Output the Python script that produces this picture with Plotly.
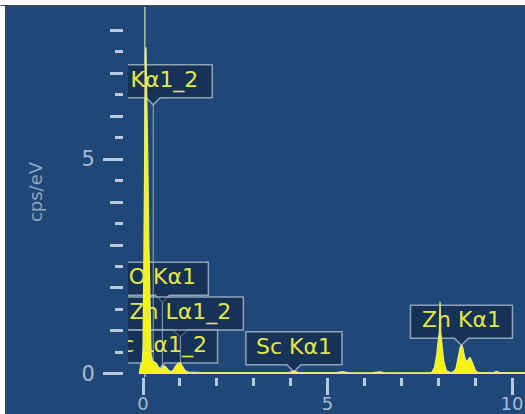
import plotly.graph_objects as go

# ---------------------------------------------------------------- data
# EDS spectrum: energy (keV) and intensity (cps/eV)
energy_kev = [
    -0.10, -0.06, -0.02, 0.00, 0.02, 0.035, 0.05, 0.065, 0.08, 0.10,
    0.13, 0.16, 0.19, 0.22, 0.26, 0.30, 0.36, 0.42, 0.47, 0.52,
    0.58, 0.64, 0.70, 0.76, 0.82, 0.88, 0.95, 1.01, 1.07, 1.14,
    1.22, 1.35, 1.60, 2.00, 2.40, 2.80, 3.20, 3.60, 3.95, 4.09,
    4.22, 4.60, 5.00, 5.25, 5.40, 5.55, 5.90, 6.25, 6.40, 6.55,
    7.00, 7.50, 7.82, 7.90, 7.96, 8.00, 8.03, 8.05, 8.07, 8.10,
    8.15, 8.22, 8.30, 8.40, 8.48, 8.54, 8.59, 8.63, 8.67, 8.71,
    8.75, 8.79, 8.83, 8.87, 8.91, 8.96, 9.02, 9.10, 9.30, 9.50,
    9.58, 9.66, 9.80, 10.10, 10.40,
]
intensity_cps_ev = [
    0.00, 0.22, 0.28, 0.60, 2.20, 4.60, 6.60, 7.45, 7.60, 6.80,
    5.00, 3.00, 1.20, 0.45, 0.30, 0.28, 0.25, 0.16, 0.10, 0.15,
    0.19, 0.14, 0.08, 0.05, 0.09, 0.18, 0.25, 0.26, 0.17, 0.08,
    0.045, 0.035, 0.030, 0.030, 0.028, 0.030, 0.028, 0.030, 0.035, 0.065,
    0.035, 0.030, 0.028, 0.030, 0.055, 0.030, 0.028, 0.030, 0.050, 0.030,
    0.028, 0.030, 0.035, 0.15, 0.45, 0.78, 0.95, 1.68, 0.95, 0.70,
    0.30, 0.08, 0.04, 0.045, 0.12, 0.38, 0.60, 0.68, 0.60, 0.42,
    0.30, 0.30, 0.36, 0.38, 0.30, 0.16, 0.06, 0.035, 0.030, 0.035,
    0.060, 0.035, 0.030, 0.030, 0.030,
]

# identified element lines: label, line energy (keV), label tip height (cps/eV)
line_names = ["C Kα1_2", "O Kα1", "Zn Lα1_2", "Sc Lα1_2", "Sc Kα1", "Zn Kα1"]
line_energy_kev = [0.277, 0.525, 1.012, 0.395, 4.090, 8.630]
line_label_height = [6.26, 1.67, 0.86, 0.09, 0.05, 0.67]

# position of the energy cursor (keV)
cursor_kev = 0.05

x_major_ticks = [0, 5, 10]
x_minor_ticks = [1, 2, 3, 4, 6, 7, 8, 9]
y_major_ticks = [0, 5]
y_minor_ticks = [1, 2, 3, 4, 6, 7, 8]
y_half_ticks = [0.5, 1.5, 2.5, 3.5, 4.5, 5.5, 6.5, 7.5]

# ---------------------------------------------------------------- style
W, H = 525, 414
M_L, M_R, M_T, M_B = 123, 0, 7, 37
CLIP_GAP = 5                      # px between y ticks and spectrum area
X_RANGE = [-0.4065, 10.352]
Y_RANGE = [-0.07, 8.535]
PLOT_H = H - M_T - M_B
PX_PER_UNIT = PLOT_H / (Y_RANGE[1] - Y_RANGE[0])

BG = "#1f4879"
TICK = "#b8cae0"
TICKLABEL = "#a7bad2"
TITLE = "#8fa5c0"
SPEC_FILL = "#f4f40e"
SPEC_LINE = "#e8ee80"
BOX_FILL = "rgba(14, 32, 60, 0.55)"
BOX_LINE = "rgba(165, 182, 200, 0.85)"
LABEL_TEXT = "#e3e748"
CURSOR = "#a3c6a0"
MARKER_LINE = "rgba(185, 198, 212, 0.75)"
FONT = "DejaVu Sans"

# label box geometry in px (half width per label, notch and body size)
box_half_width = {"C Kα1_2": 59, "O Kα1": 46, "Zn Lα1_2": 63,
                  "Sc Lα1_2": 60, "Sc Kα1": 48, "Zn Kα1": 51}
NOTCH_H, NOTCH_W, BOX_H = 7, 7, 33

fig = go.Figure()

# thin marker lines from each label down to the baseline
mx, my = [], []
for e, h in zip(line_energy_kev, line_label_height):
    mx += [e, e, None]
    my += [0, h, None]
fig.add_trace(go.Scatter(x=mx, y=my, mode="lines",
                         line=dict(color=MARKER_LINE, width=1),
                         hoverinfo="skip", showlegend=False))

# spectrum
fig.add_trace(go.Scatter(x=energy_kev, y=intensity_cps_ev, mode="lines",
                         fill="tozeroy", fillcolor=SPEC_FILL,
                         line=dict(color=SPEC_LINE, width=1.2),
                         showlegend=False))

# label texts, centred in their boxes
text_y = [h + (NOTCH_H + BOX_H / 2) / PX_PER_UNIT for h in line_label_height]
fig.add_trace(go.Scatter(x=line_energy_kev, y=text_y, mode="text",
                         text=line_names, textposition="middle center",
                         textfont=dict(family=FONT, size=22, color=LABEL_TEXT),
                         cliponaxis=True, hoverinfo="skip", showlegend=False))

# empty trace that carries the overlaid half-step tick axis
fig.add_trace(go.Scatter(x=[], y=[], yaxis="y2", showlegend=False))

shapes = []
# energy cursor
shapes.append(dict(type="line", xref="x", yref="paper", x0=cursor_kev, x1=cursor_kev,
                   y0=0, y1=1, layer="below", line=dict(color=CURSOR, width=1.5)))

# label boxes with a pointer notch at the bottom
for name, e, h in zip(line_names, line_energy_kev, line_label_height):
    hw = box_half_width[name]
    path = (f"M {-hw},{NOTCH_H} L {-NOTCH_W},{NOTCH_H} L 0,0 L {NOTCH_W},{NOTCH_H} "
            f"L {hw},{NOTCH_H} L {hw},{NOTCH_H + BOX_H} L {-hw},{NOTCH_H + BOX_H} Z")
    shapes.append(dict(type="path", xref="x", yref="y",
                       xsizemode="pixel", ysizemode="pixel",
                       xanchor=e, yanchor=h, path=path, layer="below",
                       fillcolor=BOX_FILL, line=dict(color=BOX_LINE, width=1.5)))

# window frame at the top and left edges
shapes += [
    dict(type="rect", xref="paper", yref="paper", xsizemode="pixel", xanchor=0,
         x0=-M_L, x1=-M_L + 5, y0=-0.2, y1=1.2, fillcolor="white",
         line=dict(width=0), layer="above"),
    dict(type="rect", xref="paper", yref="paper", ysizemode="pixel", yanchor=1,
         y0=M_T, y1=M_T - 5, x0=-0.4, x1=1.1, fillcolor="white",
         line=dict(width=0), layer="above"),
    dict(type="line", xref="paper", yref="paper", xsizemode="pixel", xanchor=0,
         x0=-M_L + 5.5, x1=-M_L + 5.5, y0=-0.2, y1=1.005,
         line=dict(color="#454545", width=1), layer="above"),
    dict(type="line", xref="paper", yref="paper", ysizemode="pixel", yanchor=1,
         y0=M_T - 5.5, y1=M_T - 5.5, x0=-0.3045, x1=1.1,
         line=dict(color="#454545", width=1), layer="above"),
]

fig.update_layout(
    width=W, height=H,
    margin=dict(l=M_L, r=M_R, t=M_T, b=M_B, autoexpand=False),
    paper_bgcolor=BG, plot_bgcolor=BG,
    font=dict(family=FONT, color=TICKLABEL),
    shapes=shapes,
    xaxis=dict(
        domain=[CLIP_GAP / (W - M_L - M_R), 1], range=X_RANGE,
        showgrid=False, zeroline=False, showline=False,
        tickmode="array", tickvals=x_major_ticks, ticklabeloverflow="allow",
        ticks="outside", ticklen=17, tickwidth=3, tickcolor=TICK,
        tickfont=dict(size=18, color=TICKLABEL), ticklabelstandoff=-7,
        minor=dict(tickmode="array", tickvals=x_minor_ticks, ticks="outside",
                   ticklen=8, tickwidth=3, tickcolor=TICK, showgrid=False),
    ),
    yaxis=dict(
        range=Y_RANGE, anchor="free", position=0,
        showgrid=False, zeroline=False, showline=False,
        tickmode="array", tickvals=y_major_ticks,
        ticks="outside", ticklen=20, tickwidth=3, tickcolor=TICK,
        tickfont=dict(size=21, color=TICKLABEL), ticklabelstandoff=4,
        minor=dict(tickmode="array", tickvals=y_minor_ticks, ticks="outside",
                   ticklen=13, tickwidth=3, tickcolor=TICK, showgrid=False),
        title=dict(text="cps/eV", standoff=33,
                   font=dict(size=18, color=TITLE)),
    ),
    yaxis2=dict(
        range=Y_RANGE, overlaying="y", anchor="free", position=0, side="left",
        showgrid=False, zeroline=False, showline=False, showticklabels=False,
        tickmode="array", tickvals=y_half_ticks,
        ticks="outside", ticklen=8, tickwidth=3, tickcolor=TICK,
    ),
    showlegend=False,
)

fig.write_html("out.html", config={"displayModeBar": False})
